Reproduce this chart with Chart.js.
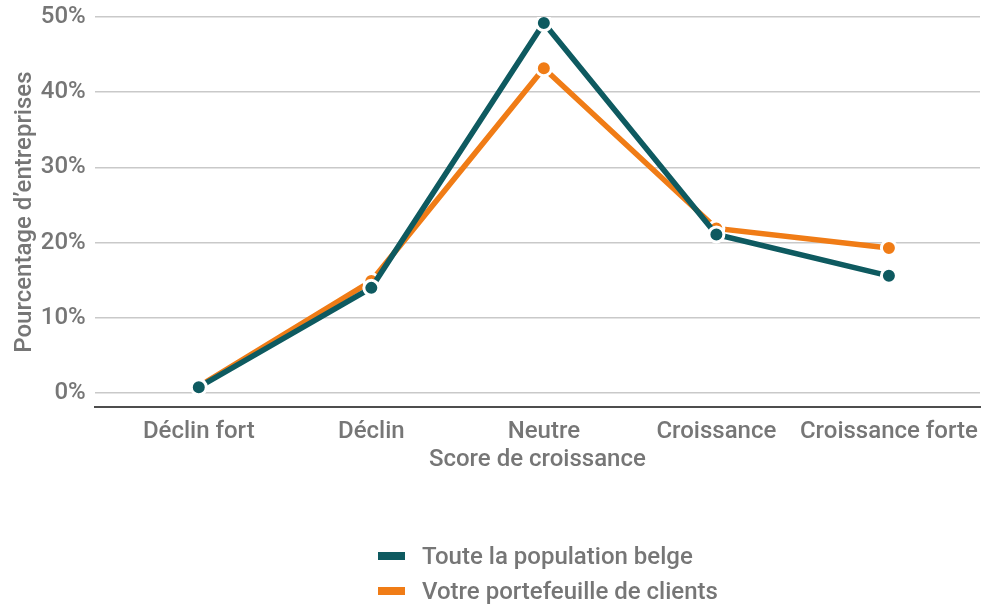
<!DOCTYPE html>
<html>
<head>
<meta charset="utf-8">
<script src="https://cdn.jsdelivr.net/npm/chart.js@4"></script>
<style>
  html, body { margin: 0; padding: 0; background: #fff; }
  #wrap { position: relative; width: 985px; height: 606px; }
  #legend { position: absolute; left: 378px; top: 538px; font-family: Roboto, sans-serif; font-weight: 500; font-size: 24px; color: #767676; }
  #legend .item { display: flex; align-items: center; height: 35px; }
  #legend .box { width: 27px; height: 8px; margin-right: 17px; }
</style>
</head>
<body>
<div id="wrap">
  <canvas id="c" width="985" height="606"></canvas>
  <div id="legend"></div>
</div>
<script>
const categories = ['Déclin fort', 'Déclin', 'Neutre', 'Croissance', 'Croissance forte'];
const populationBelge = [0.8, 14.0, 49.2, 21.1, 15.6];
const portefeuille = [0.9, 14.9, 43.2, 21.9, 19.3];
const yTicks = [0, 10, 20, 30, 40, 50];

const TEAL = '#0e5a60';
const ORANGE = '#f07c16';
const GREY = '#767676';
const FONT = { family: 'Roboto', size: 24, weight: 500 };

const toPoints = arr => arr.map((v, i) => ({ x: i, y: v }));

const chart = new Chart(document.getElementById('c'), {
  type: 'line',
  data: {
    datasets: [
      {
        label: 'Toute la population belge',
        data: toPoints(populationBelge),
        borderColor: TEAL,
        backgroundColor: TEAL,
        borderWidth: 5.5,
        pointRadius: 7.5,
        pointBorderColor: '#ffffff',
        pointBorderWidth: 3,
        pointBackgroundColor: TEAL,
        tension: 0
      },
      {
        label: 'Votre portefeuille de clients',
        data: toPoints(portefeuille),
        borderColor: ORANGE,
        backgroundColor: ORANGE,
        borderWidth: 5.5,
        pointRadius: 7.5,
        pointBorderColor: '#ffffff',
        pointBorderWidth: 3,
        pointBackgroundColor: ORANGE,
        tension: 0
      }
    ]
  },
  options: {
    responsive: false,
    animation: false,
    events: [],
    layout: { autoPadding: false, padding: { top: 0, right: 5, bottom: 132, left: 11 } },
    plugins: {
      legend: { display: false },
      tooltip: { enabled: false }
    },
    scales: {
      x: {
        type: 'linear',
        min: -0.603,
        max: 4.528,
        afterBuildTicks: axis => {
          axis.ticks = categories.map((_, i) => ({ value: i }));
        },
        // the last label may run into the right margin
        afterFit: axis => {
          axis.paddingRight = 0;
        },
        ticks: {
          callback: v => categories[v],
          color: GREY,
          font: { ...FONT, lineHeight: '46px' },
          padding: 2,
          maxRotation: 0,
          autoSkip: false
        },
        grid: { display: false, drawTicks: false },
        border: { display: true, color: '#4d4d4d', width: 2 },
        title: {
          display: true,
          text: 'Score de croissance',
          color: GREY,
          font: FONT,
          padding: { top: -12, bottom: 0 }
        }
      },
      y: {
        type: 'linear',
        min: -1.86,
        max: 50,
        afterBuildTicks: axis => {
          axis.ticks = yTicks.map(v => ({ value: v }));
        },
        ticks: {
          callback: v => v + '%',
          color: GREY,
          font: { ...FONT, lineHeight: '16px' },
          padding: 9
        },
        grid: { color: '#c9c9c9', lineWidth: 1.5, drawTicks: false },
        border: { display: false },
        title: {
          display: true,
          text: 'Pourcentage d\u2019entreprises',
          color: GREY,
          font: FONT,
          padding: { top: 0, bottom: -8 }
        }
      }
    }
  }
});

// Legend built from the chart's own datasets
const legendEl = document.getElementById('legend');
chart.data.datasets.forEach(ds => {
  const item = document.createElement('div');
  item.className = 'item';
  const box = document.createElement('span');
  box.className = 'box';
  box.style.background = ds.borderColor;
  const txt = document.createElement('span');
  txt.textContent = ds.label;
  item.appendChild(box);
  item.appendChild(txt);
  legendEl.appendChild(item);
});
</script>
</body>
</html>
